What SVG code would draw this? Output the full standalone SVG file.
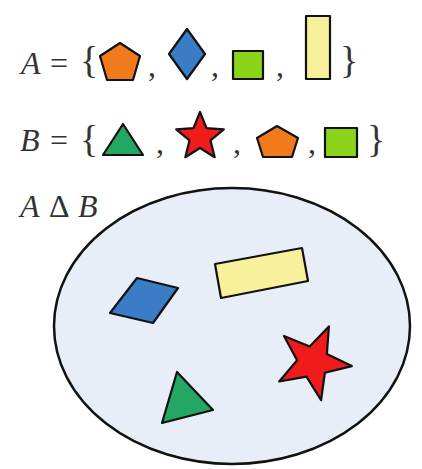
<svg xmlns="http://www.w3.org/2000/svg" width="422" height="469" viewBox="0 0 422 469">
<style>
.t{font-family:"Liberation Serif","Times New Roman",serif;font-size:32px;fill:#333}
.i{font-style:italic}
.br{font-size:38px}
.s{stroke:#111;stroke-width:2.2;stroke-linejoin:round}
.orange{fill:#f07a1c}
.blue{fill:#3b7cc6}
.lime{fill:#8cd41a}
.yellow{fill:#f8f09a}
.green{fill:#22a862}
.red{fill:#f01c1c}
</style>
<rect width="422" height="469" fill="#ffffff"/>
<g id="setA">
<text class="t i" x="21" y="74">A</text>
<text class="t" x="50" y="74">=</text>
<text class="t br" x="80" y="73">{</text>
<polygon id="a-pentagon" class="s orange" points="120,43 140,56 133,80 107,80 100,56"/>
<text class="t" x="148" y="76">,</text>
<polygon id="a-diamond" class="s blue" points="187,29 205,54 187,79 169,54"/>
<text class="t" x="211" y="76">,</text>
<rect id="a-square" class="s lime" x="233" y="51" width="30" height="28"/>
<text class="t" x="276" y="76">,</text>
<rect id="a-rect" class="s yellow" x="306" y="16" width="24" height="63"/>
<text class="t br" x="340" y="73">}</text>
</g>
<g id="setB">
<text class="t i" x="20" y="151">B</text>
<text class="t" x="50" y="151">=</text>
<text class="t br" x="80" y="152">{</text>
<polygon id="b-triangle" class="s green" points="123,124 143,155 103,155"/>
<text class="t" x="156" y="153">,</text>
<polygon id="b-star" class="s red" points="200,112 206.5,128.1 223.8,129.3 210.5,140.4 214.7,157.2 200,148 185.3,157.2 189.5,140.4 176.2,129.3 193.5,128.1"/>
<text class="t" x="233" y="153">,</text>
<polygon id="b-pentagon" class="s orange" points="277,126 298,138 292,157 263,157 257,138"/>
<text class="t" x="308" y="153">,</text>
<rect id="b-square" class="s lime" x="325" y="128" width="32" height="29"/>
<text class="t br" x="367" y="152">}</text>
</g>
<g id="symdiff">
<text class="t i" x="20" y="217">A</text>
<text class="t" x="49" y="217">Δ</text>
<text class="t i" x="78" y="217">B</text>
<ellipse id="ellipse" cx="232" cy="326" rx="178" ry="138" fill="#e7eef8" stroke="#111" stroke-width="2.5"/>
<polygon id="e-parallelogram" class="s blue" points="110,313 137,278 178,288 153,323"/>
<polygon id="e-rect" class="s yellow" points="215,264 302,248 308,281 221,298"/>
<polygon id="e-star" class="s red" points="328.9,326.4 326.9,354 351.8,366.1 324.9,372.7 321.1,400.1 306.5,376.6 279.2,381.5 297.1,360.3 284,335.9 309.7,346.4"/>
<polygon id="e-triangle" class="s green" points="177,372 213,410 162,423"/>
</g>
</svg>
